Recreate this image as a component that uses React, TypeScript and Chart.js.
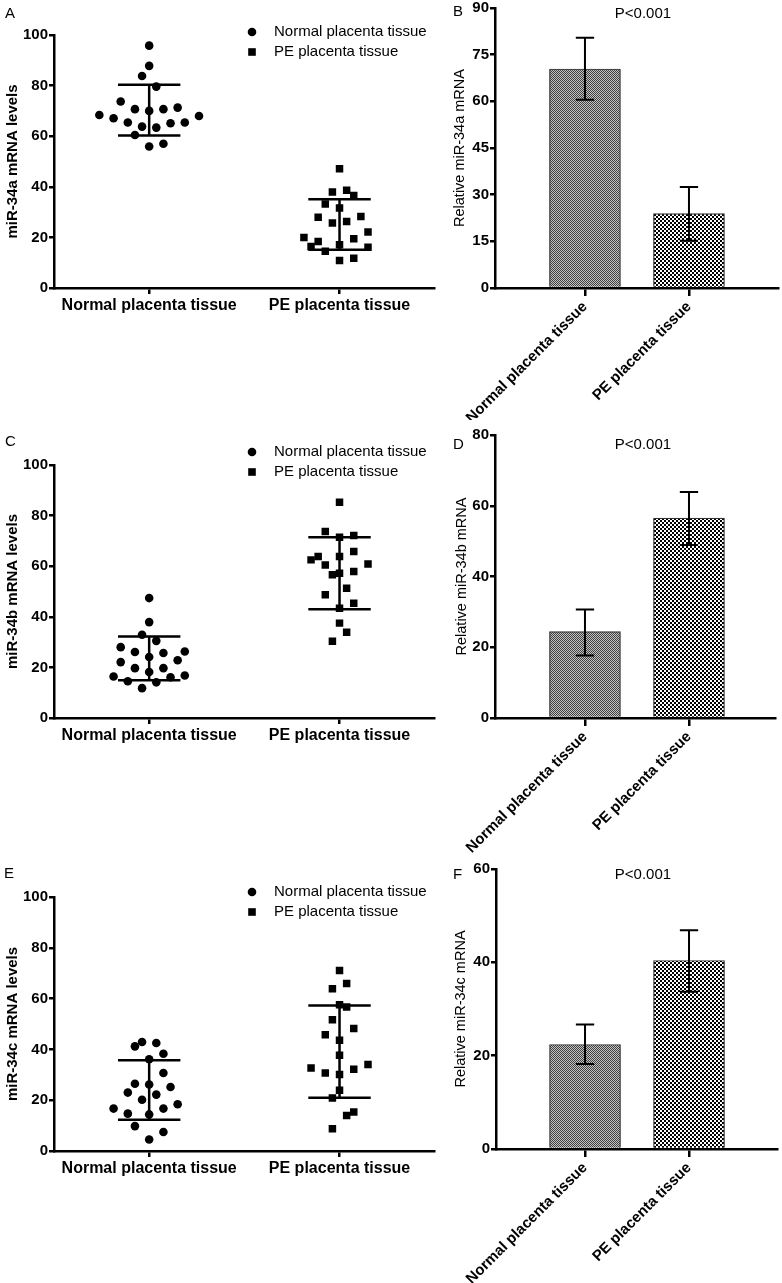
import React, { useEffect, useRef } from "react";
import { Chart, registerables } from "chart.js";

Chart.register(...registerables);

const FONT = "'Liberation Sans', Arial, Helvetica, sans-serif";
Chart.defaults.font.family = FONT;
Chart.defaults.color = "#000";

// ---------- data ----------
const groupLabels = ["Normal placenta tissue", "PE placenta tissue"];

// Panel A (miR-34a scatter)
const aNormal = [95.8, 87.8, 83.8, 79.6, 73.7, 70.7, 70.0, 70.7, 71.3, 68.4, 67.1, 68.0, 65.4, 63.8, 63.4, 65.1, 65.4, 60.5, 55.9, 57.0];
const aNormalJitter = [0, 0, -1, 1, -4, -2, 0, 2, 4, -7, -5, 7, -3, -1, 1, 3, 5, -2, 0, 2];
const aPE = [47.1, 37.9, 38.6, 36.6, 33.2, 31.6, 28.0, 28.3, 25.7, 26.3, 22.1, 20.0, 19.5, 18.4, 16.4, 17.1, 16.1, 14.5, 11.8, 10.9];
const aPEJitter = [0, -1, 1, 2, -2, 0, -3, 3, -1, 1, 4, -5, 2, -3, -4, 0, 4, -2, 2, 0];
const aNormalSD = [60.3, 80.3];
const aPESD = [15.1, 35.1];

// Panel C (miR-34b scatter)
const cNormal = [47.4, 37.9, 32.9, 30.5, 28.0, 26.1, 25.7, 26.3, 24.1, 22.1, 22.8, 19.7, 19.7, 18.2, 16.4, 16.8, 16.1, 14.5, 14.1, 11.8];
const cNormalJitter = [0, 0, -1, 1, -4, -2, 2, 5, 0, -4, 4, -2, 2, 0, -5, 5, 3, -3, 1, -1];
const cPE = [85.3, 73.7, 71.4, 72.1, 65.8, 63.8, 62.5, 60.5, 60.9, 63.8, 56.6, 57.2, 57.9, 51.3, 48.7, 45.4, 43.4, 37.5, 33.9, 30.3];
const cPEJitter = [0, -2, 0, 2, 2, -3, -4, -2, 4, 0, -1, 0, 2, 1, -2, 2, 0, 0, 1, -1];
const cNormalSD = [14.9, 32.2];
const cPESD = [43.0, 71.4];

// Panel E (miR-34c scatter)
const eNormal = [42.9, 41.2, 42.5, 38.3, 36.1, 30.7, 26.5, 26.2, 25.2, 23.0, 22.2, 20.2, 16.7, 18.4, 16.7, 14.7, 14.4, 9.8, 7.5, 4.5];
const eNormalJitter = [-1, -2, 1, 2, 0, 2, -2, 0, 3, -3, 1, -1, -5, 4, 2, -3, 0, -2, 2, 0];
const ePE = [71.1, 63.9, 65.9, 57.6, 56.7, 51.7, 48.2, 45.8, 43.6, 37.7, 32.7, 30.7, 30.1, 32.2, 34.1, 23.9, 20.9, 15.4, 14.0, 8.8];
const ePEJitter = [0, -1, 1, 0, 1, -1, 2, -2, 0, 0, -4, -2, 0, 2, 4, 0, -1, 2, 1, -1];
const eNormalSD = [12.3, 35.7];
const ePESD = [21.0, 57.3];

// Panel B / D / F (bar charts)
const bMeans = [70.4, 23.9];
const bLow = [60.5, 15.2];
const bHigh = [80.4, 32.5];
const dMeans = [24.4, 56.5];
const dLow = [17.7, 48.9];
const dHigh = [30.7, 63.9];
const fMeans = [22.4, 40.4];
const fLow = [18.2, 33.7];
const fHigh = [26.7, 46.9];

const pValueText = "P<0.001";

// ---------- helpers ----------
const JITTER_STEP = 0.0374;

type Box = { left: number; top: number; w: number; h: number };
type Area = { l: number; t: number; r: number; b: number };

const sdPlugin = {
  id: "sdLines",
  afterDatasetsDraw(chart: any, _args: any, opts: any) {
    const { ctx } = chart;
    const xs = chart.scales.x;
    const ys = chart.scales.y;
    ctx.save();
    ctx.strokeStyle = "#000";
    ctx.lineWidth = 2.5;
    ctx.lineCap = "butt";
    opts.ranges.forEach((r: number[], g: number) => {
      const xc = xs.getPixelForValue(g);
      const x0 = xs.getPixelForValue(g - opts.halfWidth);
      const x1 = xs.getPixelForValue(g + opts.halfWidth);
      const yl = ys.getPixelForValue(r[0]);
      const yh = ys.getPixelForValue(r[1]);
      ctx.beginPath();
      ctx.moveTo(x0, yl);
      ctx.lineTo(x1, yl);
      ctx.moveTo(x0, yh);
      ctx.lineTo(x1, yh);
      ctx.moveTo(xc, yl);
      ctx.lineTo(xc, yh);
      ctx.stroke();
    });
    ctx.restore();
  },
};

const legendPlugin = {
  id: "customLegend",
  afterDraw(chart: any, _args: any, opts: any) {
    const { ctx } = chart;
    ctx.save();
    chart.data.datasets.forEach((ds: any, i: number) => {
      const y = opts.y + i * opts.gap;
      ctx.fillStyle = "#000";
      if (ds.pointStyle === "rect") {
        ctx.fillRect(opts.x - 3.8, y - 3.8, 7.6, 7.6);
      } else {
        ctx.beginPath();
        ctx.arc(opts.x, y, 4.3, 0, Math.PI * 2);
        ctx.fill();
      }
      ctx.font = `15px ${FONT}`;
      ctx.textBaseline = "middle";
      ctx.textAlign = "left";
      ctx.fillText(ds.label, opts.textX, y);
    });
    ctx.restore();
  },
};

const errPlugin = {
  id: "errBars",
  afterDatasetsDraw(chart: any, _args: any, opts: any) {
    const { ctx } = chart;
    const xs = chart.scales.x;
    const ys = chart.scales.y;
    ctx.save();
    ctx.strokeStyle = "#000";
    ctx.lineWidth = 2;
    opts.low.forEach((lo: number, i: number) => {
      const hi = opts.high[i];
      const xc = xs.getPixelForValue(i);
      const half = xs.getPixelForValue(i + opts.halfWidth) - xc;
      const yl = ys.getPixelForValue(lo);
      const yh = ys.getPixelForValue(hi);
      ctx.beginPath();
      ctx.moveTo(xc, yl);
      ctx.lineTo(xc, yh);
      ctx.moveTo(xc - half, yl);
      ctx.lineTo(xc + half, yl);
      ctx.moveTo(xc - half, yh);
      ctx.lineTo(xc + half, yh);
      ctx.stroke();
    });
    ctx.restore();
  },
};

function makePattern(kind: "fine" | "coarse") {
  const c = document.createElement("canvas");
  const g = c.getContext("2d")!;
  if (kind === "fine") {
    c.width = 2;
    c.height = 2;
    g.fillStyle = "#c4c4c4";
    g.fillRect(0, 0, 2, 2);
    g.fillStyle = "#404040";
    g.fillRect(0, 0, 1, 1);
    g.fillRect(1, 1, 1, 1);
  } else {
    c.width = 4;
    c.height = 4;
    g.fillStyle = "#ffffff";
    g.fillRect(0, 0, 4, 4);
    g.fillStyle = "#000000";
    g.fillRect(0, 0, 2, 2);
    g.fillRect(2, 2, 2, 2);
  }
  return g.createPattern(c, "repeat");
}

const fixX = (height: number) => (s: any) => {
  s.height = height;
  s.paddingLeft = 0;
  s.paddingRight = 0;
  s.paddingTop = 0;
  s.paddingBottom = 0;
};
const fixY = (width: number) => (s: any) => {
  s.width = width;
  s.paddingLeft = 0;
  s.paddingRight = 0;
  s.paddingTop = 0;
  s.paddingBottom = 0;
};

function scatterConfig(p: {
  box: Box;
  area: Area;
  yTitle: string;
  normal: number[];
  normalJitter: number[];
  pe: number[];
  peJitter: number[];
  normalSD: number[];
  peSD: number[];
}) {
  const pts = (vals: number[], jit: number[], g: number) =>
    vals.map((v, i) => ({ x: g + jit[i] * JITTER_STEP, y: v }));
  return {
    type: "scatter",
    data: {
      datasets: [
        {
          label: groupLabels[0],
          data: pts(p.normal, p.normalJitter, 0),
          pointStyle: "circle",
          pointRadius: 4.3,
          backgroundColor: "#000",
          borderWidth: 0,
        },
        {
          label: groupLabels[1],
          data: pts(p.pe, p.peJitter, 1),
          pointStyle: "rect",
          pointRadius: 5.3,
          backgroundColor: "#000",
          borderWidth: 0,
        },
      ],
    },
    options: {
      responsive: false,
      animation: false,
      events: [],
      layout: {
        padding: {
          left: 0,
          right: p.box.left + p.box.w - p.area.r,
          top: p.area.t - p.box.top,
          bottom: 0,
        },
      },
      plugins: {
        legend: { display: false },
        tooltip: { enabled: false },
        sdLines: { ranges: [p.normalSD, p.peSD], halfWidth: 0.164 },
        customLegend: { x: 252, textX: 274, y: 32, gap: 20 },
      },
      scales: {
        x: {
          type: "linear",
          min: -0.5,
          max: 1.5,
          offset: false,
          afterBuildTicks: (s: any) => {
            s.ticks = [{ value: 0 }, { value: 1 }];
          },
          afterFit: fixX(p.box.top + p.box.h - p.area.b),
          border: { display: true, color: "#000", width: 2.5 },
          grid: { display: true, drawOnChartArea: false, drawTicks: true, tickLength: 6, color: "#000", lineWidth: 2.5 },
          ticks: {
            autoSkip: false,
            maxRotation: 0,
            minRotation: 0,
            padding: 2,
            color: "#000",
            font: { size: 16, weight: "bold" },
            callback: (v: number) => (v === 0 ? groupLabels[0] : v === 1 ? groupLabels[1] : ""),
          },
        },
        y: {
          min: 0,
          max: 100,
          afterFit: fixY(p.area.l - p.box.left),
          border: { display: true, color: "#000", width: 2.5 },
          grid: { display: true, drawOnChartArea: false, drawTicks: true, tickLength: 5, color: "#000", lineWidth: 2.5 },
          ticks: { stepSize: 20, padding: 1, color: "#000", font: { size: 15, weight: "bold" } },
          title: {
            display: true,
            text: p.yTitle,
            color: "#000",
            font: { size: 15, weight: "bold" },
            padding: { top: 4, bottom: 0 },
          },
        },
      },
    },
    plugins: [sdPlugin, legendPlugin],
  };
}

function barConfig(p: {
  box: Box;
  area: Area;
  yTitle: string;
  yMax: number;
  step: number;
  means: number[];
  low: number[];
  high: number[];
  xMin: number;
  xMax: number;
  titlePad: number;
}) {
  return {
    type: "bar",
    data: {
      datasets: [
        {
          data: p.means.map((m, i) => ({ x: i, y: m })),
          backgroundColor: [makePattern("fine"), makePattern("coarse")],
          borderColor: "#333",
          borderWidth: 1.2,
          barThickness: 71,
        },
      ],
    },
    options: {
      responsive: false,
      animation: false,
      events: [],
      layout: {
        padding: {
          left: 0,
          right: p.box.left + p.box.w - p.area.r,
          top: p.area.t - p.box.top,
          bottom: 0,
        },
      },
      plugins: {
        legend: { display: false },
        tooltip: { enabled: false },
        errBars: { low: p.low, high: p.high, halfWidth: 0.088 },
      },
      scales: {
        x: {
          type: "linear",
          min: p.xMin,
          max: p.xMax,
          offset: false,
          afterBuildTicks: (s: any) => {
            s.ticks = [{ value: 0 }, { value: 1 }];
          },
          afterFit: fixX(p.box.top + p.box.h - p.area.b),
          border: { display: true, color: "#000", width: 2.5 },
          grid: { display: true, drawOnChartArea: false, drawTicks: true, tickLength: 8, color: "#000", lineWidth: 2.5, offset: false },
          ticks: {
            autoSkip: false,
            maxRotation: 45,
            minRotation: 45,
            padding: 2,
            color: "#000",
            font: { size: 15, weight: "bold" },
            callback: (v: number) => (v === 0 ? groupLabels[0] : v === 1 ? groupLabels[1] : ""),
          },
        },
        y: {
          min: 0,
          max: p.yMax,
          afterFit: fixY(p.area.l - p.box.left),
          border: { display: true, color: "#000", width: 2.5 },
          grid: { display: true, drawOnChartArea: false, drawTicks: true, tickLength: 5, color: "#000", lineWidth: 2.5 },
          ticks: { stepSize: p.step, padding: 1, color: "#000", font: { size: 15, weight: "bold" } },
          title: {
            display: true,
            text: p.yTitle,
            color: "#000",
            font: { size: 14.5, weight: "normal" },
            padding: { top: p.titlePad, bottom: 0 },
          },
        },
      },
    },
    plugins: [errPlugin],
  };
}

function ChartBox({ box, make }: { box: Box; make: () => any }) {
  const ref = useRef<HTMLCanvasElement | null>(null);
  useEffect(() => {
    if (!ref.current) return;
    const chart = new Chart(ref.current, make());
    return () => chart.destroy();
  }, []);
  return (
    <canvas
      ref={ref}
      width={box.w}
      height={box.h}
      style={{ position: "absolute", left: box.left, top: box.top, width: box.w, height: box.h }}
    />
  );
}

const boxA: Box = { left: 0, top: 0, w: 440, h: 330 };
const areaA: Area = { l: 54, t: 35, r: 437, b: 288 };
const boxC: Box = { left: 0, top: 420, w: 440, h: 340 };
const areaC: Area = { l: 54, t: 465, r: 437, b: 718 };
const boxE: Box = { left: 0, top: 860, w: 440, h: 340 };
const areaE: Area = { l: 54, t: 897, r: 437, b: 1151 };
const boxB: Box = { left: 440, top: 0, w: 342, h: 420 };
const areaB: Area = { l: 495, t: 8, r: 778, b: 288 };
const boxD: Box = { left: 440, top: 420, w: 342, h: 435 };
const areaD: Area = { l: 495, t: 435, r: 775, b: 718 };
const boxF: Box = { left: 440, top: 840, w: 342, h: 443 };
const areaF: Area = { l: 496, t: 869, r: 777, b: 1149 };

const letterStyle = (left: number, top: number): React.CSSProperties => ({
  position: "absolute",
  left,
  top,
  fontSize: 15,
  lineHeight: "18px",
  fontFamily: FONT,
  color: "#000",
});

const pStyle = (top: number): React.CSSProperties => ({
  position: "absolute",
  left: 593,
  width: 100,
  top,
  textAlign: "center",
  fontSize: 15,
  lineHeight: "18px",
  fontFamily: FONT,
  color: "#000",
});

export default function App() {
  return (
    <div style={{ position: "absolute", left: 0, top: 0, width: 782, height: 1283, background: "#fff", overflow: "hidden" }}>
      <ChartBox
        box={boxA}
        make={() =>
          scatterConfig({ box: boxA, area: areaA, yTitle: "miR-34a mRNA levels", normal: aNormal, normalJitter: aNormalJitter, pe: aPE, peJitter: aPEJitter, normalSD: aNormalSD, peSD: aPESD })
        }
      />
      <ChartBox
        box={boxC}
        make={() =>
          scatterConfig({ box: boxC, area: areaC, yTitle: "miR-34b mRNA levels", normal: cNormal, normalJitter: cNormalJitter, pe: cPE, peJitter: cPEJitter, normalSD: cNormalSD, peSD: cPESD })
        }
      />
      <ChartBox
        box={boxE}
        make={() =>
          scatterConfig({ box: boxE, area: areaE, yTitle: "miR-34c mRNA levels", normal: eNormal, normalJitter: eNormalJitter, pe: ePE, peJitter: ePEJitter, normalSD: eNormalSD, peSD: ePESD })
        }
      />
      <ChartBox
        box={boxB}
        make={() =>
          barConfig({ box: boxB, area: areaB, yTitle: "Relative miR-34a mRNA", yMax: 90, step: 15, means: bMeans, low: bLow, high: bHigh, xMin: -0.865, xMax: 1.856, titlePad: 11 })
        }
      />
      <ChartBox
        box={boxD}
        make={() =>
          barConfig({ box: boxD, area: areaD, yTitle: "Relative miR-34b mRNA", yMax: 80, step: 20, means: dMeans, low: dLow, high: dHigh, xMin: -0.865, xMax: 1.827, titlePad: 13 })
        }
      />
      <ChartBox
        box={boxF}
        make={() =>
          barConfig({ box: boxF, area: areaF, yTitle: "Relative miR-34c mRNA", yMax: 60, step: 20, means: fMeans, low: fLow, high: fHigh, xMin: -0.856, xMax: 1.846, titlePad: 12 })
        }
      />
      <div style={letterStyle(5, 3.5)}>A</div>
      <div style={letterStyle(453, 1.5)}>B</div>
      <div style={letterStyle(5, 431.5)}>C</div>
      <div style={letterStyle(453, 434.5)}>D</div>
      <div style={letterStyle(4, 863.5)}>E</div>
      <div style={letterStyle(453, 864.5)}>F</div>
      <div style={pStyle(3.5)}>{pValueText}</div>
      <div style={pStyle(434.5)}>{pValueText}</div>
      <div style={pStyle(864.5)}>{pValueText}</div>
    </div>
  );
}
